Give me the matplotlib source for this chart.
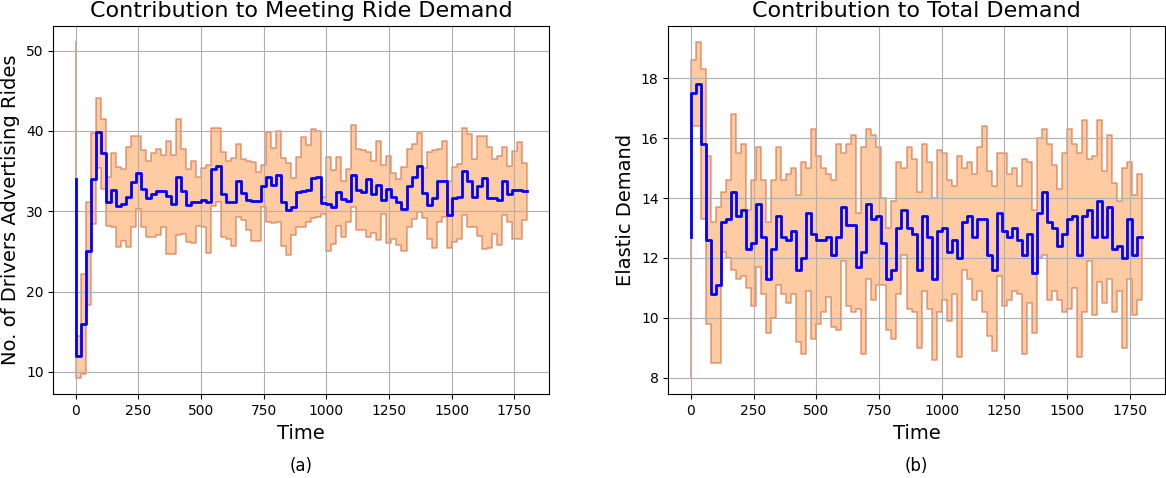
import numpy as np
import matplotlib
matplotlib.use("Agg")
import matplotlib.pyplot as plt

# time axis: one sample every 20 time units
time = np.arange(0, 1801, 20)

# --- (a) drivers advertising rides ---
rides_mean = [34.0, 12.0, 16.0, 25.0, 34.0, 39.8, 37.2, 31.2, 32.6, 30.6, 30.9, 31.8, 33.6, 34.8, 32.8, 31.6,
              32.1, 32.5, 32.5, 31.9, 30.9, 34.2, 32.5, 30.8, 31.2, 31.1, 31.4, 31.1, 35.3, 35.6, 32.1, 31.1,
              31.1, 33.7, 32.3, 31.4, 31.3, 31.3, 33.1, 34.3, 33.3, 34.5, 31.1, 30.2, 30.5, 32.4, 32.5, 32.7,
              34.1, 34.3, 31.0, 30.9, 30.5, 32.4, 31.5, 31.3, 34.5, 32.6, 32.4, 34.0, 32.2, 33.3, 31.4, 32.8,
              31.8, 31.2, 30.3, 33.1, 34.2, 35.6, 32.3, 30.8, 31.6, 33.7, 33.8, 29.5, 31.6, 31.8, 35.0, 33.8,
              31.8, 33.1, 34.1, 31.6, 31.6, 31.4, 33.8, 32.2, 32.7, 32.7, 32.5]
rides_upper = [51.0, 14.5, 22.2, 31.2, 39.7, 44.1, 41.5, 34.2, 37.3, 35.5, 35.2, 38.0, 39.4, 39.3, 37.6, 36.3,
               37.2, 37.7, 37.0, 38.8, 37.0, 41.5, 37.8, 35.3, 36.3, 34.3, 35.4, 35.7, 40.4, 40.4, 37.4, 36.3,
               36.6, 38.4, 36.5, 36.3, 36.1, 34.9, 35.8, 39.8, 37.9, 40.0, 36.6, 36.0, 34.1, 36.8, 39.2, 38.2,
               40.2, 40.0, 31.8, 36.8, 35.1, 36.7, 33.8, 35.3, 40.7, 37.7, 37.6, 37.4, 36.2, 38.8, 35.8, 36.9,
               34.8, 34.0, 35.5, 37.8, 38.4, 39.7, 35.4, 37.4, 37.6, 37.8, 38.8, 33.8, 35.5, 35.9, 40.3, 39.6,
               36.5, 39.3, 39.4, 38.0, 36.5, 36.9, 38.0, 35.6, 37.5, 38.6, 36.0]
rides_lower = [17.0, 9.3, 9.8, 18.3, 28.4, 35.4, 32.8, 28.2, 28.0, 25.6, 26.3, 25.5, 28.0, 30.3, 28.0, 26.8,
               26.8, 27.0, 28.0, 24.7, 24.7, 27.0, 27.2, 26.2, 26.0, 28.1, 28.0, 24.8, 30.7, 31.2, 26.8, 26.5,
               25.7, 29.3, 28.9, 27.7, 26.3, 26.3, 30.5, 28.7, 28.5, 28.6, 25.7, 24.6, 27.0, 28.0, 28.0, 28.6,
               29.2, 29.3, 29.6, 25.0, 25.9, 28.1, 26.8, 28.6, 30.5, 27.7, 27.7, 26.8, 27.3, 26.4, 29.7, 26.1,
               26.6, 25.8, 25.0, 28.0, 29.0, 29.9, 29.1, 26.5, 25.4, 28.7, 29.3, 25.4, 26.2, 26.5, 29.5, 28.0,
               28.0, 26.9, 25.3, 25.4, 27.2, 25.8, 29.5, 28.7, 26.6, 26.6, 28.9]

# --- (b) elastic demand ---
demand_mean = [12.7, 17.5, 17.8, 15.8, 12.6, 10.8, 11.1, 13.2, 13.3, 14.2, 13.4, 13.6, 12.3, 12.5, 13.8, 12.7,
               11.3, 12.3, 13.4, 12.7, 12.6, 12.9, 11.6, 12.0, 13.5, 12.8, 12.6, 12.6, 12.7, 12.1, 12.7, 13.7,
               13.1, 13.1, 11.7, 12.2, 13.8, 13.3, 13.4, 12.5, 11.3, 11.6, 13.0, 13.6, 13.0, 12.8, 11.6, 13.4,
               12.7, 11.3, 12.9, 13.0, 12.2, 12.6, 12.0, 13.2, 13.4, 12.7, 13.3, 13.3, 12.1, 11.6, 13.5, 12.9,
               12.7, 13.0, 12.6, 12.1, 12.8, 11.5, 13.5, 14.2, 13.2, 13.0, 12.4, 12.8, 13.3, 13.4, 12.1, 13.4,
               13.6, 12.7, 13.9, 12.7, 13.7, 12.3, 12.4, 12.0, 13.3, 12.1, 12.7]
demand_upper = [17.4, 18.6, 19.2, 18.3, 15.4, 13.2, 13.7, 14.2, 14.6, 16.8, 15.5, 15.8, 13.6, 14.6, 15.7, 14.6,
                13.2, 14.6, 15.7, 14.6, 14.8, 15.0, 14.1, 15.2, 15.0, 16.3, 15.4, 15.0, 14.8, 14.6, 15.8, 15.5,
                15.8, 16.1, 13.5, 15.7, 16.3, 16.1, 15.7, 14.0, 13.0, 13.9, 15.2, 15.0, 15.7, 15.3, 14.2, 15.8,
                15.2, 14.0, 15.6, 15.5, 14.6, 14.4, 15.4, 15.0, 15.2, 14.8, 15.7, 16.4, 14.9, 14.4, 15.5, 15.5,
                14.8, 15.0, 14.4, 15.3, 15.2, 13.6, 16.0, 16.3, 15.8, 15.1, 14.3, 15.5, 16.3, 15.8, 15.5, 16.6,
                15.3, 15.4, 16.6, 14.9, 16.1, 14.5, 13.9, 15.0, 15.2, 14.1, 14.8]
demand_lower = [8.0, 16.4, 16.4, 13.3, 9.8, 8.5, 8.5, 12.2, 12.0, 11.6, 11.3, 11.4, 11.0, 10.4, 11.7, 10.8,
                9.5, 10.0, 11.1, 10.8, 10.5, 10.8, 9.2, 8.8, 10.9, 9.3, 9.8, 10.2, 10.7, 9.7, 9.6, 11.9,
                10.4, 10.2, 10.3, 8.8, 11.3, 10.6, 11.1, 11.1, 9.6, 9.3, 10.8, 12.1, 10.3, 10.2, 9.0, 10.9,
                10.3, 8.6, 10.2, 10.6, 9.9, 10.8, 8.7, 11.6, 11.3, 10.6, 10.9, 10.2, 9.4, 8.9, 11.4, 10.4,
                10.6, 10.9, 10.8, 8.8, 10.5, 9.5, 12.0, 12.1, 10.6, 10.9, 10.6, 10.2, 10.3, 11.0, 8.7, 10.2,
                11.9, 10.1, 11.2, 10.5, 11.3, 10.2, 10.9, 9.0, 11.3, 10.1, 10.6]

fig = plt.figure(figsize=(11.66, 4.78), dpi=100)
ax1 = fig.add_axes([0.0457, 0.1751, 0.4254, 0.7711])
ax2 = fig.add_axes([0.5732, 0.1751, 0.4257, 0.7711])

panels = [
    (ax1, rides_mean, rides_lower, rides_upper, 'Contribution to Meeting Ride Demand',
     'No. of Drivers Advertising Rides', '(a)'),
    (ax2, demand_mean, demand_lower, demand_upper, 'Contribution to Total Demand',
     'Elastic Demand', '(b)'),
]

for ax, mean, lower, upper, title, ylabel, tag in panels:
    # shaded band first, grid over it, mean line on top
    ax.fill_between(time, lower, upper, step='pre', alpha=0.5,
                    edgecolor='#CC4F1B', facecolor='#FF9848', linewidth=1.2)
    ax.step(time, mean, where='pre', color='blue', linewidth=2)
    ax.set_title(title, fontsize=16)
    ax.set_xlabel('Time', fontsize=14)
    ax.set_ylabel(ylabel, fontsize=14)
    ax.tick_params(labelsize=10)
    ax.grid(True)
    ax.set_axisbelow('line')
    bb = ax.get_position()
    fig.text((bb.x0 + bb.x1) / 2, 0.025, tag, ha='center', va='center', fontsize=12)

fig.savefig('out.png', dpi=100)
